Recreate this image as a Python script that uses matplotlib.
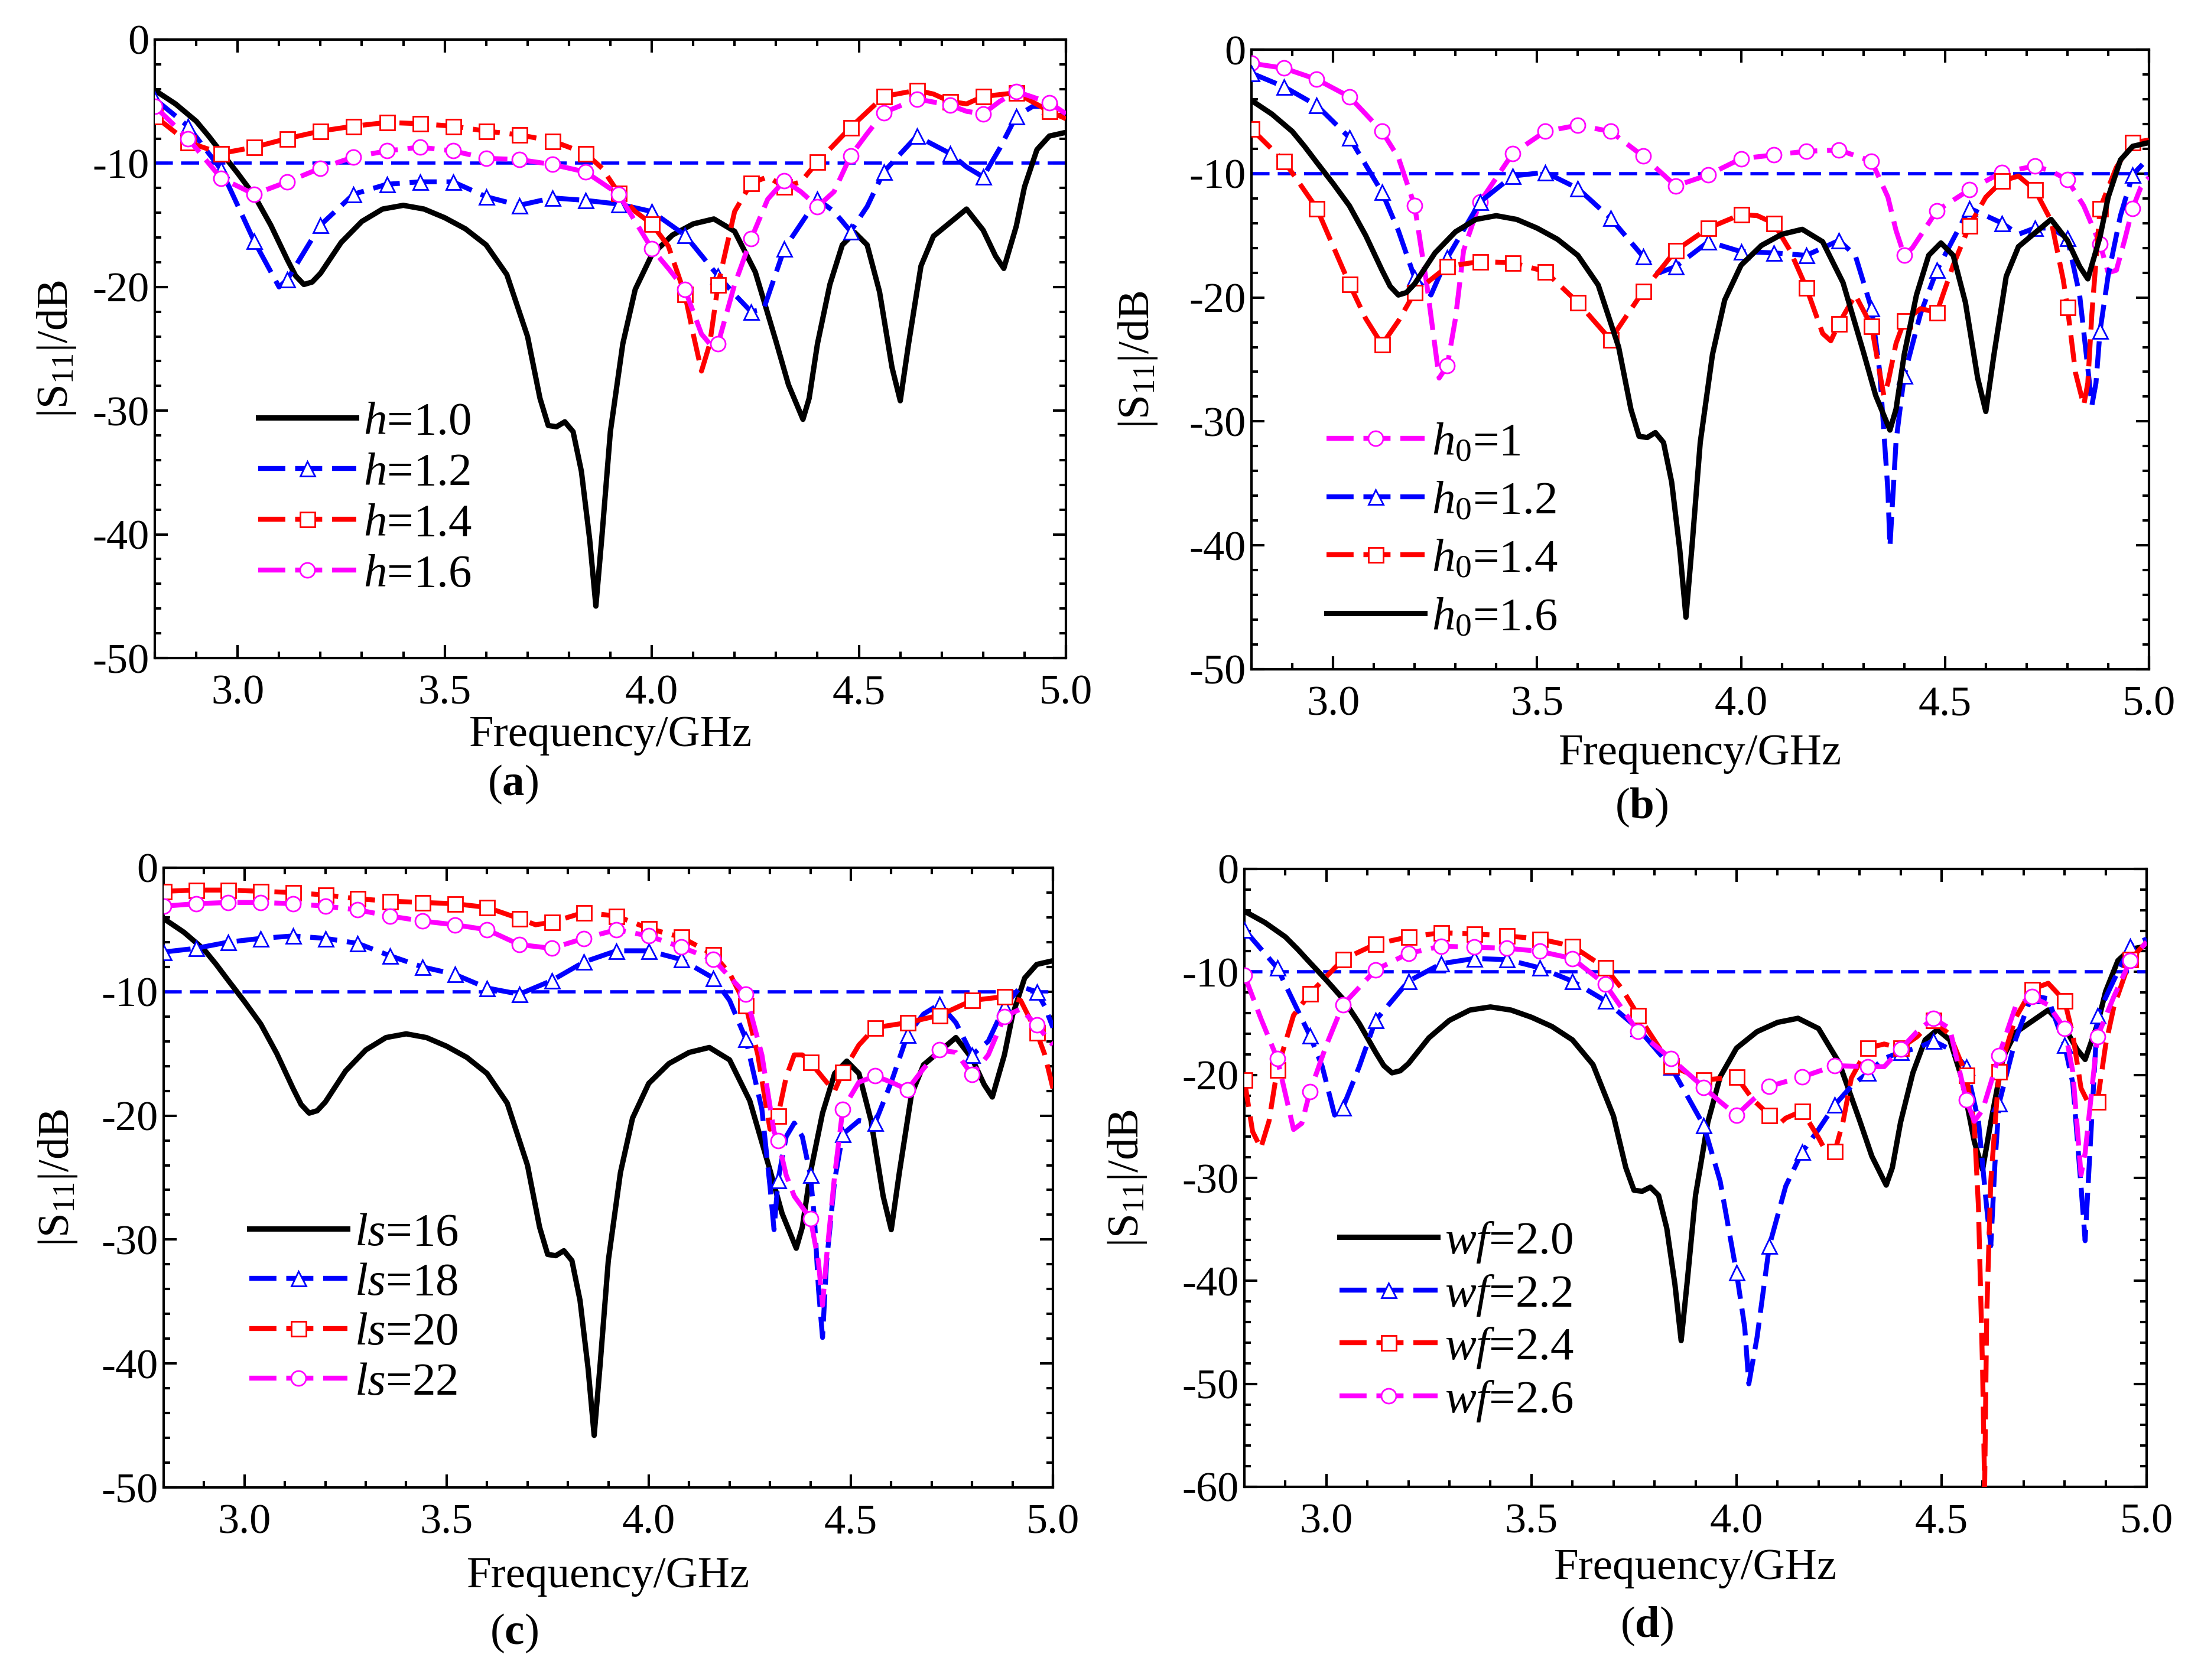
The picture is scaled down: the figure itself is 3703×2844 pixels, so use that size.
import numpy as np
import matplotlib
matplotlib.use('Agg')
import matplotlib.pyplot as plt
from matplotlib.ticker import MultipleLocator, FormatStrFormatter

plt.rcParams['font.family'] = 'Liberation Serif'
plt.rcParams['mathtext.fontset'] = 'custom'
plt.rcParams['mathtext.rm'] = 'Liberation Serif'
plt.rcParams['mathtext.it'] = 'Liberation Serif:italic'
plt.rcParams['mathtext.bf'] = 'Liberation Serif:bold'
plt.rcParams['axes.unicode_minus'] = False

## DATA, frequency in GHz, |S11| in dB

# reference curve, identical in all four panels
f_ref = [2.80, 2.85, 2.90, 2.93, 2.96, 3.00, 3.04, 3.08, 3.12, 3.14, 3.16, 3.18, 3.20, 3.25, 3.30, 3.35,
         3.40, 3.45, 3.50, 3.55, 3.60, 3.65, 3.70, 3.73, 3.75, 3.77, 3.79, 3.81, 3.83, 3.85, 3.865, 3.88,
         3.90, 3.93, 3.96, 4.00, 4.05, 4.10, 4.15, 4.20, 4.25, 4.30, 4.33, 4.365, 4.38, 4.40, 4.43,
         4.46, 4.49, 4.52, 4.55, 4.58, 4.60, 4.62, 4.65, 4.68, 4.72, 4.76, 4.80, 4.83, 4.85, 4.88,
         4.90, 4.93, 4.96, 5.00]
s_ref = [-4.1, -5.2, -6.6, -7.8, -9.1, -10.8, -12.6, -15.0, -17.8, -19.1, -19.8, -19.6, -18.9, -16.4, -14.7, -13.7,
         -13.4, -13.7, -14.4, -15.3, -16.6, -19.0, -24.0, -29.0, -31.2, -31.3, -30.9, -31.7, -34.9, -40.4, -45.8, -40.0,
         -31.7, -24.6, -20.2, -17.4, -15.8, -14.9, -14.5, -15.5, -18.8, -24.4, -27.9, -30.7, -29.0, -24.6, -19.8,
         -16.6, -15.6, -16.6, -20.4, -26.5, -29.2, -24.6, -18.3, -15.9, -14.8, -13.7, -15.4, -17.5, -18.5, -15.1,
         -11.9, -8.9, -7.8, -7.5]

# (a) h
f_h12 = [2.80, 2.88, 2.96, 3.04, 3.10, 3.12, 3.20, 3.28, 3.36, 3.44, 3.52, 3.60, 3.68, 3.76, 3.84, 3.92,
         4.00, 4.08, 4.16, 4.20, 4.24, 4.27, 4.32, 4.40, 4.44, 4.48, 4.52, 4.56, 4.64, 4.72, 4.76, 4.80,
         4.84, 4.88, 4.92, 4.96, 5.00]
s_h12 = [-4.8, -7.0, -10.5, -16.3, -20.0, -19.4, -15.0, -12.5, -11.7, -11.5, -11.5, -12.7, -13.4, -12.8, -13.0, -13.3,
         -13.9, -15.8, -19.1, -20.6, -22.0, -21.8, -16.9, -12.9, -13.9, -15.5, -13.5, -10.7, -7.8, -9.2, -10.3, -11.1,
         -8.8, -6.2, -5.4, -5.4, -6.0]
f_h14 = [2.80, 2.88, 2.96, 3.04, 3.12, 3.20, 3.28, 3.36, 3.44, 3.52, 3.60, 3.68, 3.76, 3.84, 3.88, 3.92,
         3.96, 4.00, 4.04, 4.08, 4.10, 4.12, 4.14, 4.16, 4.20, 4.24, 4.28, 4.32, 4.36, 4.40, 4.48, 4.56,
         4.64, 4.68, 4.72, 4.76, 4.80, 4.88, 4.96, 5.00]
s_h14 = [-6.2, -8.3, -9.2, -8.7, -8.0, -7.4, -7.0, -6.7, -6.8, -7.0, -7.4, -7.7, -8.2, -9.2, -10.4, -12.4,
         -13.9, -14.9, -16.7, -20.6, -23.8, -26.8, -24.6, -19.8, -13.9, -11.6, -11.1, -11.9, -11.5, -9.9, -7.1, -4.6,
         -4.1, -4.4, -5.0, -5.2, -4.6, -4.3, -5.8, -6.4]
f_h16 = [2.80, 2.88, 2.96, 3.04, 3.12, 3.20, 3.28, 3.36, 3.44, 3.52, 3.60, 3.68, 3.76, 3.84, 3.92, 4.00,
         4.04, 4.08, 4.12, 4.15, 4.16, 4.20, 4.24, 4.28, 4.32, 4.36, 4.40, 4.44, 4.48, 4.52, 4.56, 4.64,
         4.72, 4.76, 4.80, 4.84, 4.88, 4.96, 5.00]
s_h16 = [-5.4, -8.0, -11.2, -12.5, -11.5, -10.4, -9.5, -9.0, -8.7, -9.0, -9.6, -9.7, -10.1, -10.7, -12.5, -16.9,
         -18.5, -20.2, -23.8, -25.0, -24.6, -19.8, -16.1, -12.9, -11.4, -12.3, -13.5, -12.3, -9.4, -7.6, -5.9, -4.8,
         -5.3, -5.8, -6.0, -5.0, -4.2, -5.1, -6.0]

# (b) h0
f_h010 = [2.80, 2.88, 2.96, 3.04, 3.12, 3.16, 3.20, 3.23, 3.26, 3.28, 3.30, 3.32, 3.36, 3.44, 3.52, 3.60,
          3.68, 3.76, 3.84, 3.92, 4.00, 4.08, 4.16, 4.24, 4.32, 4.36, 4.38, 4.40, 4.42, 4.48, 4.56, 4.64,
          4.72, 4.76, 4.80, 4.84, 4.88, 4.90, 4.92, 4.94, 4.96, 4.98, 5.00]
s_h010 = [-1.1, -1.5, -2.4, -3.8, -6.6, -8.7, -12.6, -19.0, -26.5, -25.5, -21.7, -16.2, -12.3, -8.4, -6.6, -6.1,
          -6.6, -8.6, -11.0, -10.1, -8.8, -8.5, -8.2, -8.1, -9.0, -11.9, -14.6, -16.6, -16.0, -13.0, -11.3, -9.9,
          -9.4, -9.8, -10.5, -12.6, -15.7, -18.0, -17.8, -15.4, -12.8, -11.1, -10.3]
f_h012 = [2.80, 2.88, 2.96, 3.04, 3.12, 3.16, 3.20, 3.24, 3.28, 3.36, 3.44, 3.52, 3.60, 3.68, 3.76, 3.80,
          3.84, 3.92, 4.00, 4.08, 4.16, 4.24, 4.28, 4.32, 4.34, 4.36, 4.365, 4.38, 4.40, 4.44, 4.48, 4.56,
          4.60, 4.64, 4.68, 4.72, 4.76, 4.80, 4.83, 4.85, 4.86, 4.87, 4.88, 4.90, 4.93, 4.96, 5.00]
s_h012 = [-1.9, -3.0, -4.5, -7.1, -11.5, -14.6, -18.4, -19.8, -16.8, -12.3, -10.2, -9.9, -11.2, -13.6, -16.7, -18.0,
          -17.5, -15.5, -16.3, -16.4, -16.6, -15.4, -16.6, -20.9, -26.0, -35.6, -40.1, -31.6, -26.3, -21.3, -17.8, -12.8,
          -13.4, -14.0, -14.9, -14.4, -14.4, -15.2, -19.8, -25.7, -28.7, -26.9, -22.7, -18.2, -13.4, -10.1, -8.7]
f_h014 = [2.80, 2.88, 2.96, 3.04, 3.08, 3.12, 3.16, 3.20, 3.28, 3.36, 3.44, 3.52, 3.60, 3.68, 3.76, 3.84,
          3.92, 4.00, 4.04, 4.08, 4.12, 4.16, 4.20, 4.22, 4.24, 4.28, 4.32, 4.34, 4.35, 4.36, 4.38, 4.40,
          4.44, 4.48, 4.52, 4.56, 4.60, 4.64, 4.68, 4.72, 4.76, 4.79, 4.80, 4.82, 4.84, 4.85, 4.86, 4.88,
          4.92, 4.96, 5.00]
s_h014 = [-6.4, -9.0, -12.8, -18.9, -21.7, -23.8, -21.9, -19.6, -17.5, -17.1, -17.2, -17.9, -20.4, -23.4, -19.5, -16.2,
          -14.4, -13.3, -13.4, -14.0, -16.2, -19.2, -22.9, -23.5, -22.1, -19.8, -22.3, -26.1, -27.9, -26.9, -23.7, -21.9,
          -20.9, -21.2, -17.4, -14.2, -11.9, -10.6, -10.2, -11.3, -13.8, -18.6, -20.8, -26.1, -28.7, -26.9, -21.3, -12.8,
          -9.5, -7.5, -7.3]

# (c) ls
f_ls18 = [2.80, 2.88, 2.96, 3.04, 3.12, 3.20, 3.28, 3.36, 3.44, 3.52, 3.60, 3.68, 3.76, 3.84, 3.92, 4.00,
          4.08, 4.16, 4.20, 4.24, 4.28, 4.30, 4.31, 4.32, 4.34, 4.36, 4.38, 4.40, 4.41, 4.42, 4.43, 4.44,
          4.46, 4.48, 4.52, 4.56, 4.60, 4.64, 4.68, 4.72, 4.76, 4.80, 4.84, 4.88, 4.92, 4.96, 4.98, 5.00]
s_ls18 = [-6.8, -6.5, -6.0, -5.7, -5.5, -5.7, -6.1, -7.1, -8.0, -8.6, -9.7, -10.2, -9.1, -7.6, -6.7, -6.7,
          -7.4, -8.9, -10.7, -13.8, -19.5, -25.7, -29.2, -25.2, -21.7, -20.6, -21.7, -24.8, -28.3, -34.0, -37.9, -31.8,
          -25.2, -21.5, -20.4, -20.6, -17.3, -13.5, -11.8, -11.0, -12.5, -15.1, -14.0, -11.2, -9.6, -10.0, -11.2, -12.9]
f_ls20 = [2.80, 2.88, 2.96, 3.04, 3.12, 3.20, 3.28, 3.36, 3.44, 3.52, 3.60, 3.68, 3.72, 3.76, 3.84, 3.92,
          4.00, 4.08, 4.16, 4.20, 4.24, 4.27, 4.30, 4.32, 4.34, 4.36, 4.38, 4.40, 4.44, 4.46, 4.48, 4.52,
          4.56, 4.64, 4.72, 4.80, 4.88, 4.92, 4.96, 4.98, 5.00]
s_ls20 = [-1.9, -1.8, -1.8, -1.9, -2.0, -2.2, -2.5, -2.7, -2.8, -2.9, -3.2, -4.1, -4.6, -4.4, -3.6, -3.9,
          -4.9, -5.6, -7.0, -8.5, -11.1, -15.1, -21.1, -20.0, -16.9, -15.1, -15.1, -15.7, -17.3, -18.0, -16.5, -14.3,
          -12.9, -12.5, -11.9, -10.7, -10.4, -10.7, -13.3, -15.1, -17.8]
f_ls22 = [2.80, 2.88, 2.96, 3.04, 3.12, 3.20, 3.28, 3.36, 3.44, 3.52, 3.60, 3.68, 3.76, 3.84, 3.92, 4.00,
          4.08, 4.16, 4.24, 4.28, 4.31, 4.32, 4.34, 4.36, 4.38, 4.40, 4.42, 4.43, 4.44, 4.46, 4.48, 4.52,
          4.56, 4.60, 4.64, 4.68, 4.72, 4.76, 4.80, 4.84, 4.88, 4.92, 4.96, 5.00]
s_ls22 = [-3.1, -2.9, -2.8, -2.8, -2.9, -3.1, -3.4, -3.9, -4.3, -4.6, -5.0, -6.2, -6.5, -5.7, -5.0, -5.5,
          -6.4, -7.4, -10.2, -15.1, -21.3, -22.0, -24.8, -26.5, -27.4, -28.3, -31.8, -35.3, -31.4, -24.8, -19.5, -17.3,
          -16.8, -17.3, -17.9, -16.2, -14.7, -14.9, -16.7, -15.1, -12.0, -11.4, -12.7, -14.3]

# (d) wf
f_wf22 = [2.80, 2.88, 2.96, 2.99, 3.02, 3.04, 3.08, 3.12, 3.20, 3.28, 3.36, 3.44, 3.52, 3.60, 3.68, 3.76,
          3.84, 3.92, 3.96, 4.00, 4.02, 4.03, 4.05, 4.08, 4.12, 4.16, 4.20, 4.24, 4.28, 4.32, 4.36, 4.40,
          4.44, 4.48, 4.52, 4.56, 4.59, 4.61, 4.62, 4.63, 4.64, 4.68, 4.72, 4.76, 4.80, 4.82, 4.84, 4.85,
          4.86, 4.88, 4.92, 4.96, 5.00]
s_wf22 = [-5.9, -9.6, -16.2, -19.2, -23.9, -23.2, -19.2, -14.7, -10.9, -9.2, -8.7, -8.8, -9.6, -10.9, -12.8, -15.5,
          -19.2, -24.9, -30.3, -39.2, -44.5, -50.0, -45.5, -36.6, -30.8, -27.5, -25.3, -22.9, -21.1, -19.8, -18.4, -17.8,
          -17.4, -16.7, -17.5, -19.2, -24.5, -32.9, -36.6, -28.7, -22.8, -16.6, -12.3, -12.6, -17.1, -20.8, -30.8, -36.1,
          -28.7, -14.2, -10.8, -7.5, -6.8]
f_wf24 = [2.80, 2.82, 2.84, 2.86, 2.88, 2.92, 2.96, 3.04, 3.12, 3.20, 3.28, 3.36, 3.44, 3.52, 3.60, 3.68,
          3.72, 3.76, 3.84, 3.92, 4.00, 4.04, 4.08, 4.10, 4.12, 4.16, 4.20, 4.22, 4.24, 4.26, 4.28, 4.32,
          4.36, 4.40, 4.44, 4.48, 4.52, 4.56, 4.58, 4.59, 4.60, 4.605, 4.61, 4.62, 4.64, 4.68, 4.72, 4.76,
          4.80, 4.82, 4.84, 4.86, 4.88, 4.90, 4.92, 4.96, 5.00]
s_wf24 = [-20.5, -25.5, -27.1, -24.5, -19.5, -14.2, -12.1, -8.8, -7.3, -6.6, -6.2, -6.3, -6.5, -6.8, -7.5, -9.6,
          -11.6, -14.2, -19.1, -20.5, -20.2, -22.4, -23.9, -24.9, -24.2, -23.5, -26.1, -27.6, -27.4, -24.5, -20.3, -17.4,
          -17.0, -17.4, -16.3, -14.7, -16.1, -20.0, -25.0, -32.9, -48.7, -60.0, -43.4, -30.3, -19.7, -14.5, -11.7, -11.1,
          -12.8, -16.1, -21.3, -22.9, -22.6, -17.1, -13.4, -8.8, -7.1]
f_wf26 = [2.80, 2.84, 2.88, 2.92, 2.94, 2.96, 3.00, 3.04, 3.12, 3.20, 3.28, 3.36, 3.44, 3.52, 3.60, 3.68,
          3.76, 3.84, 3.92, 3.96, 4.00, 4.04, 4.08, 4.16, 4.24, 4.32, 4.36, 4.40, 4.44, 4.48, 4.52, 4.56,
          4.58, 4.60, 4.62, 4.64, 4.68, 4.72, 4.76, 4.80, 4.82, 4.84, 4.85, 4.88, 4.92, 4.96, 5.00]
s_wf26 = [-10.3, -14.5, -18.4, -25.3, -24.7, -21.6, -17.1, -13.2, -9.8, -8.2, -7.5, -7.6, -7.7, -8.0, -8.7, -11.2,
          -15.8, -18.4, -21.2, -22.6, -23.9, -22.4, -21.1, -20.2, -19.1, -19.2, -19.2, -17.5, -15.8, -14.5, -15.5, -22.4,
          -24.5, -23.4, -20.8, -18.1, -13.4, -12.4, -13.2, -15.5, -19.7, -29.7, -27.6, -16.3, -12.4, -8.9, -7.1]

## STYLE
W, H = 3703, 2844
FS_TICK = 52
FS_LAB = 54
FS_LEG = 57
BLUE, RED, MAG = '#0000ff', '#ff0000', '#ff00ff'


def marks(f):
    # markers sit every 0.08 GHz from 2.8 GHz
    k = (np.asarray(f) - 2.8) / 0.08
    return np.isclose(k, np.round(k))


def add_curve(ax, f, s, label, color, marker):
    f = np.asarray(f)
    if marker is None:
        ax.plot(f, s, color=color, lw=6.5, label=label, zorder=3)
    else:
        ax.plot(f, s, color=color, lw=6, ls=(0, (5.5, 2)), marker=marker, ms=18,
                mfc='white', mec=color, mew=2, markevery=list(marks(f)), label=label, zorder=3)


def px_rect(l, t, r, b):
    return [l / W, 1 - b / H, (r - l) / W, (b - t) / H]


panels = [
    dict(rect=px_rect(262, 67, 1804, 1114), ymin=-50, tag='a', tag_xy=(868, 1328),
         leg=(0.1135, 0.415), lsp=0.17, xl=-0.093, yl=-0.084,
         curves=[(f_ref, s_ref, '$h$=1.0', 'k', None),
                 (f_h12, s_h12, '$h$=1.2', BLUE, '^'),
                 (f_h14, s_h14, '$h$=1.4', RED, 's'),
                 (f_h16, s_h16, '$h$=1.6', MAG, 'o')]),
    dict(rect=px_rect(2118, 84, 3637, 1133), ymin=-50, tag='b', tag_xy=(2778, 1367),
         leg=(0.0836, 0.399), lsp=0.33, xl=-0.104, yl=-0.103,
         curves=[(f_h010, s_h010, '$h_{\\mathit{0}}$=1', MAG, 'o'),
                 (f_h012, s_h012, '$h_{\\mathit{0}}$=1.2', BLUE, '^'),
                 (f_h014, s_h014, '$h_{\\mathit{0}}$=1.4', RED, 's'),
                 (f_ref, s_ref, '$h_{\\mathit{0}}$=1.6', 'k', None)]),
    dict(rect=px_rect(277, 1469, 1782, 2518), ymin=-50, tag='c', tag_xy=(870, 2765),
         leg=(0.0963, 0.444), lsp=0.15, xl=-0.112, yl=-0.095,
         curves=[(f_ref, s_ref, '$ls$=16', 'k', None),
                 (f_ls18, s_ls18, '$ls$=18', BLUE, '^'),
                 (f_ls20, s_ls20, '$ls$=20', RED, 's'),
                 (f_ls22, s_ls22, '$ls$=22', MAG, 'o')]),
    dict(rect=px_rect(2106, 1471, 3633, 2517), ymin=-60, tag='d', tag_xy=(2787, 2753),
         leg=(0.1054, 0.432), lsp=0.17, xl=-0.1, yl=-0.106,
         curves=[(f_ref, s_ref, '$wf$=2.0', 'k', None),
                 (f_wf22, s_wf22, '$wf$=2.2', BLUE, '^'),
                 (f_wf24, s_wf24, '$wf$=2.4', RED, 's'),
                 (f_wf26, s_wf26, '$wf$=2.6', MAG, 'o')]),
]

fig = plt.figure(figsize=(W / 100, H / 100), dpi=100)

for p in panels:
    ax = fig.add_axes(p['rect'])
    ax.axhline(-10, color=BLUE, lw=4, ls=(0, (5.5, 2.5)), zorder=2)
    for f, s, label, color, marker in p['curves']:
        add_curve(ax, f, s, label, color, marker)

    ax.set_xlim(2.8, 5.0)
    ax.set_ylim(p['ymin'], 0)
    ax.xaxis.set_major_locator(MultipleLocator(0.5))
    ax.xaxis.set_minor_locator(MultipleLocator(0.1))
    ax.xaxis.set_major_formatter(FormatStrFormatter('%.1f'))
    ax.yaxis.set_major_locator(MultipleLocator(10))
    ax.yaxis.set_minor_locator(MultipleLocator(2))
    ax.tick_params(which='both', direction='in', top=True, right=True, width=3, labelsize=FS_TICK)
    ax.tick_params(which='major', length=16)
    ax.tick_params(which='minor', length=8)
    ax.tick_params(axis='x', pad=20)
    ax.tick_params(axis='y', pad=7)
    for sp in ax.spines.values():
        sp.set_linewidth(3)

    ax.set_xlabel('Frequency/GHz', fontsize=FS_LAB)
    ax.set_ylabel('|S$_{11}$|/dB', fontsize=FS_LAB)
    ax.xaxis.set_label_coords(0.5, p['xl'])
    ax.yaxis.set_label_coords(p['yl'], 0.5)

    ax.legend(loc='upper left', bbox_to_anchor=p['leg'], frameon=False, fontsize=FS_LEG,
              handlelength=2.1, handletextpad=0.15, labelspacing=p['lsp'], borderpad=0,
              borderaxespad=0, numpoints=1)

    tx, ty = p['tag_xy']
    fig.text(tx / W, 1 - ty / H, '(' + '$\\mathbf{' + p['tag'] + '}$' + ')',
             fontsize=FS_LAB, ha='center', va='center')

fig.savefig('out.png', dpi=100)
